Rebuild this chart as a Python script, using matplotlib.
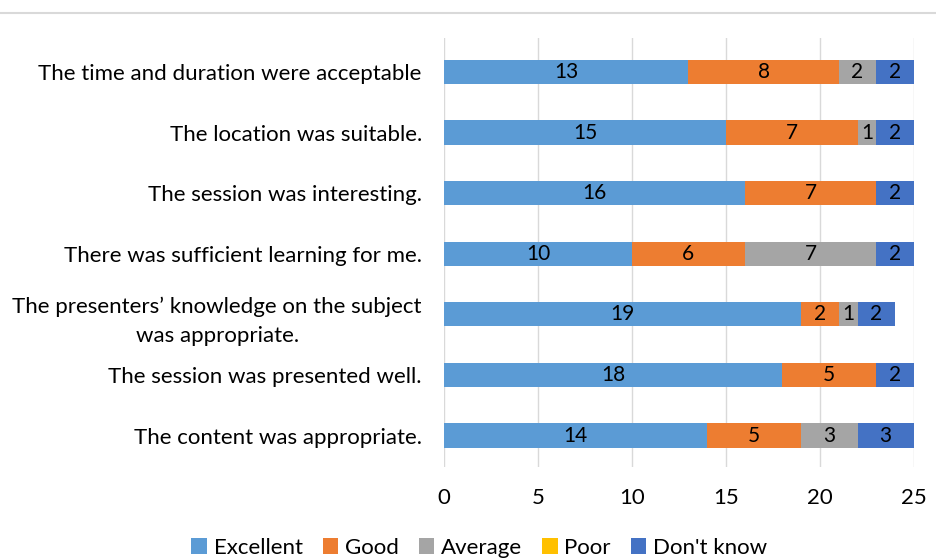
import numpy as np
import matplotlib.pyplot as plt
from matplotlib.lines import Line2D

plt.rcParams['font.family'] = ['Lato', 'DejaVu Sans']

# Survey statements (top to bottom as shown)
statements = [
    "The time and duration were acceptable",
    "The location was suitable.",
    "The session was interesting.",
    "There was sufficient learning for me.",
    "The presenters\u2019 knowledge on the subject\nwas appropriate.",
    "The session was presented well.",
    "The content was appropriate.",
]
excellent = [13, 15, 16, 10, 19, 18, 14]
good = [8, 7, 7, 6, 2, 5, 5]
average = [2, 1, 0, 7, 1, 0, 3]
poor = [0, 0, 0, 0, 0, 0, 0]
dont_know = [2, 2, 2, 2, 2, 2, 3]

series = [
    ("Excellent", excellent, "#5B9BD5"),
    ("Good", good, "#ED7D31"),
    ("Average", average, "#A5A5A5"),
    ("Poor", poor, "#FFC000"),
    ("Don't know", dont_know, "#4472C4"),
]

fig = plt.figure(figsize=(9.36, 5.6), dpi=100)
ax = fig.add_axes([0.4744, 0.166, 0.502, 0.766])

y = np.arange(len(statements))[::-1]
left = np.zeros(len(statements))
for name, vals, color in series:
    vals = np.array(vals, dtype=float)
    bars = ax.barh(y, vals, left=left, height=0.4, color=color, label=name, zorder=3)
    for b, v in zip(bars, vals):
        if v > 0:
            ax.text(b.get_x() + b.get_width() / 2, b.get_y() + b.get_height() / 2,
                    f"{int(v)}", ha="center", va="center", fontsize=15, color="black", zorder=4)
    left += vals

ax.set_xlim(0, 25)
ax.set_ylim(-0.52, 6.56)
ax.set_xticks(range(0, 26, 5))
ax.set_yticks(y)
ax.set_yticklabels(statements, fontsize=16)
ax.tick_params(axis="x", labelsize=16, length=0, pad=15)
ax.tick_params(axis="y", length=0, pad=16)
for lab in ax.get_yticklabels():
    lab.set_horizontalalignment("right")
    lab.set_multialignment("center")
    lab.set_linespacing(1.6)
ax.grid(axis="x", color="#D9D9D9", linewidth=1, zorder=0)
for s in ax.spines.values():
    s.set_visible(False)

# thin gray rule across the top
fig.add_artist(Line2D([0, 1], [1 - 13 / 560, 1 - 13 / 560], color="#D9D9D9", linewidth=1.5))

fig.legend(loc="center", bbox_to_anchor=(0.512, 0.022), ncol=5, frameon=False, fontsize=16,
           handlelength=0.7, handleheight=0.7, handletextpad=0.3, columnspacing=0.9)

fig.savefig("out.png", dpi=100)
